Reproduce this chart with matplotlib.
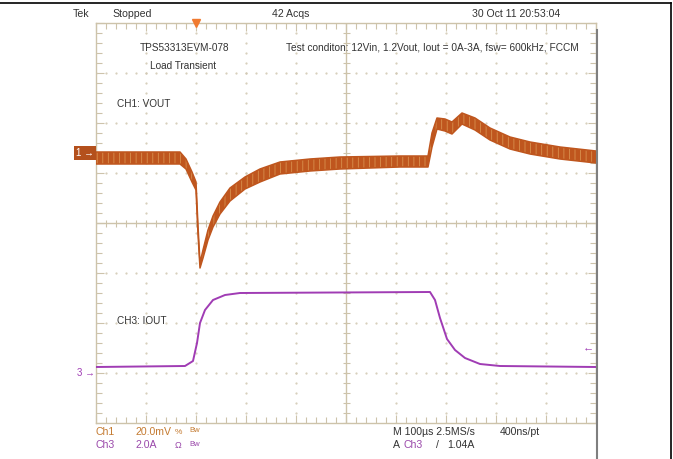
import numpy as np
import matplotlib.pyplot as plt
import matplotlib.transforms as mtransforms
from matplotlib.lines import Line2D

W, H = 673, 459

# Ch1 (VOUT, ac deviation in mV from the ch1 marker), noise band top / bottom
t_v = [-200, -32, -20, -8, 0, 4, 8, 14, 24, 34, 48, 68, 98, 128, 168, 228, 288,
       408, 464, 472, 482, 498, 512, 532, 558, 588, 628, 668, 728, 800]
vout_top = [0.4, 0.4, -2.4, -7.6, -11.6, -29.2, -44.0, -38.8, -30.8, -25.2, -19.6,
            -14.0, -9.6, -6.4, -3.6, -2.4, -1.6, -1.2, -1.2, 8.0, 14.0, 13.6, 12.4,
            16.0, 14.0, 10.0, 6.4, 4.4, 2.4, 0.8]
vout_bot = [-4.4, -4.4, -6.4, -11.6, -14.8, -32.4, -46.0, -42.0, -34.8, -29.6, -24.4,
            -19.2, -14.4, -11.6, -8.4, -7.2, -6.4, -5.6, -5.6, 2.4, 9.6, 8.8, 7.6,
            11.6, 9.2, 5.2, 1.6, -0.4, -2.4, -4.0]

# Ch3 (IOUT in A)
t_i = [-200, -22, -6, 2, 8, 18, 34, 58, 88, 468, 478, 488, 502, 518, 538, 568, 608, 800]
iout = [0.24, 0.28, 0.48, 1.2, 2.0, 2.52, 2.92, 3.12, 3.2, 3.24, 2.92, 2.2, 1.36,
        0.92, 0.6, 0.36, 0.28, 0.24]

ch1_scale = 20.0   # mV/div
ch3_scale = 2.0    # A/div
ch1_ref = 1.4      # marker position, div
ch3_ref = -3.0
trig_level = 1.04  # A
t_left, t_right = -200, 800   # us, 100 us/div

grat = '#cdc3aa'
c_ch1 = '#bf561e'
c_ch3 = '#a03cb4'
c_txt = '#333333'

plt.rcParams['font.family'] = ['Liberation Sans', 'DejaVu Sans']
plt.rcParams['hatch.linewidth'] = 0.6


def px(x, y):
    return x / W, 1 - y / H


fig = plt.figure(figsize=(W / 100, H / 100), dpi=100)
rect = [96 / W, 36 / H, 500 / W, 400 / H]

# graticule, in divisions
ax_g = fig.add_axes(rect)
ax_g.set_xlim(0, 10)
ax_g.set_ylim(-4, 4)
ax_g.set_xticks(np.arange(0, 11, 1))
ax_g.set_xticks(np.arange(0, 10.01, 0.2), minor=True)
ax_g.set_yticks(np.arange(-4, 5, 1))
ax_g.set_yticks(np.arange(-4, 4.01, 0.2), minor=True)
ax_g.tick_params(which='both', direction='in', top=True, right=True,
                 labelbottom=False, labelleft=False, color=grat, width=0.8)
ax_g.tick_params(which='major', length=6)
ax_g.tick_params(which='minor', length=4)
for s in ax_g.spines.values():
    s.set_color(grat)
    s.set_linewidth(1.0)
dots = np.arange(-4, 4.01, 0.2)
for x in range(1, 10):
    if x != 5:
        ax_g.plot(np.full(len(dots), x), dots, ls='none', marker='.', ms=1.1,
                  color='#d2c9b4')
dots = np.arange(0, 10.01, 0.2)
for y in range(-3, 4):
    if y != 0:
        ax_g.plot(dots, np.full(len(dots), y), ls='none', marker='.', ms=1.1,
                  color='#d2c9b4')
ax_g.axhline(0, color=grat, lw=1.0)
ax_g.axvline(5, color=grat, lw=1.0)
ax_g.vlines(np.arange(0, 10.01, 0.2), -0.07, 0.07, color=grat, lw=0.8)
ax_g.hlines(np.arange(-4, 4.01, 0.2), 4.93, 5.07, color=grat, lw=0.8)

# Ch1 axes
ax1 = fig.add_axes(rect, facecolor='none')
ax1.set_xlim(t_left, t_right)
ax1.set_ylim((-4 - ch1_ref) * ch1_scale, (4 - ch1_ref) * ch1_scale)
ax1.axis('off')
ax1.fill_between(t_v, vout_bot, vout_top, facecolor=c_ch1, edgecolor='#d9904e',
                 hatch='|||', lw=0)
ax1.plot(t_v, vout_top, color=c_ch1, lw=1.1)
ax1.plot(t_v, vout_bot, color=c_ch1, lw=1.1)

# Ch3 axes
ax3 = fig.add_axes(rect, facecolor='none')
ax3.set_xlim(t_left, t_right)
ax3.set_ylim((-4 - ch3_ref) * ch3_scale, (4 - ch3_ref) * ch3_scale)
ax3.axis('off')
ax3.plot(t_i, iout, color=c_ch3, lw=1.4)

# markers
tr1 = mtransforms.blended_transform_factory(ax1.transAxes, ax1.transData)
ax1.text(-0.004, 0, '1 \u2192', transform=tr1, ha='right', va='center', color='white',
         fontsize=7, bbox=dict(facecolor='#b4501c', edgecolor='none', pad=1.5))
tr3 = mtransforms.blended_transform_factory(ax3.transAxes, ax3.transData)
ax3.text(-0.002, 0, '3 \u2192', transform=tr3, ha='right', va='center', color=c_ch3,
         fontsize=7)
ax3.text(0.995, trig_level, '\u2190', transform=tr3, ha='right', va='center',
         color=c_ch3, fontsize=8)
trt = mtransforms.blended_transform_factory(ax1.transData, ax1.transAxes)
ax1.plot([0], [1.0], marker='v', ms=6, color='#f07a30', transform=trt, clip_on=False)

# header
fig.text(*px(73, 14), 'Tek', fontsize=7.6, color=c_txt, va='center')
fig.text(*px(112, 14), 'Stopped', fontsize=7.6, color=c_txt, va='center')
fig.text(*px(272, 14), '42 Acqs', fontsize=7.6, color=c_txt, va='center')
fig.text(*px(472, 14), '30 Oct 11 20:53:04', fontsize=7.6, color=c_txt, va='center')

# annotations on screen
fig.text(*px(184, 48), 'TPS53313EVM-078', fontsize=7.2, color=c_txt, ha='center',
         va='center')
fig.text(*px(183, 66), 'Load Transient', fontsize=7.2, color=c_txt, ha='center',
         va='center')
fig.text(*px(286, 48), 'Test conditon: 12Vin, 1.2Vout, Iout = 0A-3A, fsw= 600kHz, FCCM',
         fontsize=7.3, color=c_txt, va='center')
fig.text(*px(117, 104), 'CH1: VOUT', fontsize=7.2, color=c_txt, va='center')
fig.text(*px(117, 321), 'CH3: IOUT', fontsize=7.2, color=c_txt, va='center')

# footer
c1t = '#c47a30'
c3t = '#9a48aa'
fs = 7.6
fig.text(*px(95, 432), 'Ch1', fontsize=fs, color=c1t, va='center')
fig.text(*px(136, 432), '20.0mV', fontsize=fs, color=c1t, va='center')
fig.text(*px(175, 432), '%', fontsize=6, color=c1t, va='center')
fig.text(*px(189, 431), 'Bw', fontsize=5.5, color=c1t, va='center')
fig.text(*px(95, 445), 'Ch3', fontsize=fs, color=c3t, va='center')
fig.text(*px(136, 445), '2.0A', fontsize=fs, color=c3t, va='center')
fig.text(*px(175, 445), '\u03a9', fontsize=6.5, color=c3t, va='center')
fig.text(*px(189, 444), 'Bw', fontsize=5.5, color=c3t, va='center')
fig.text(*px(393, 432), 'M 100\u00b5s 2.5MS/s', fontsize=fs, color=c_txt, va='center')
fig.text(*px(500, 432), '400ns/pt', fontsize=fs, color=c_txt, va='center')
fig.text(*px(393, 445), 'A', fontsize=fs, color=c_txt, va='center')
fig.text(*px(404, 445), 'Ch3', fontsize=fs, color=c3t, va='center')
fig.text(*px(436, 445), '/', fontsize=fs, color=c_txt, va='center')
fig.text(*px(447, 445), '1.04A', fontsize=fs, color=c_txt, va='center')

# frame lines
fig.add_artist(Line2D([0, 671 / W], [1 - 3 / H] * 2, color='black', lw=1.2))
fig.add_artist(Line2D([671 / W] * 2, [0, 1 - 3 / H], color='black', lw=1.2))
fig.add_artist(Line2D([597 / W] * 2, [0, 1 - 30 / H], color='#7f7f7f', lw=1.5))

fig.savefig('out.png', dpi=100)
